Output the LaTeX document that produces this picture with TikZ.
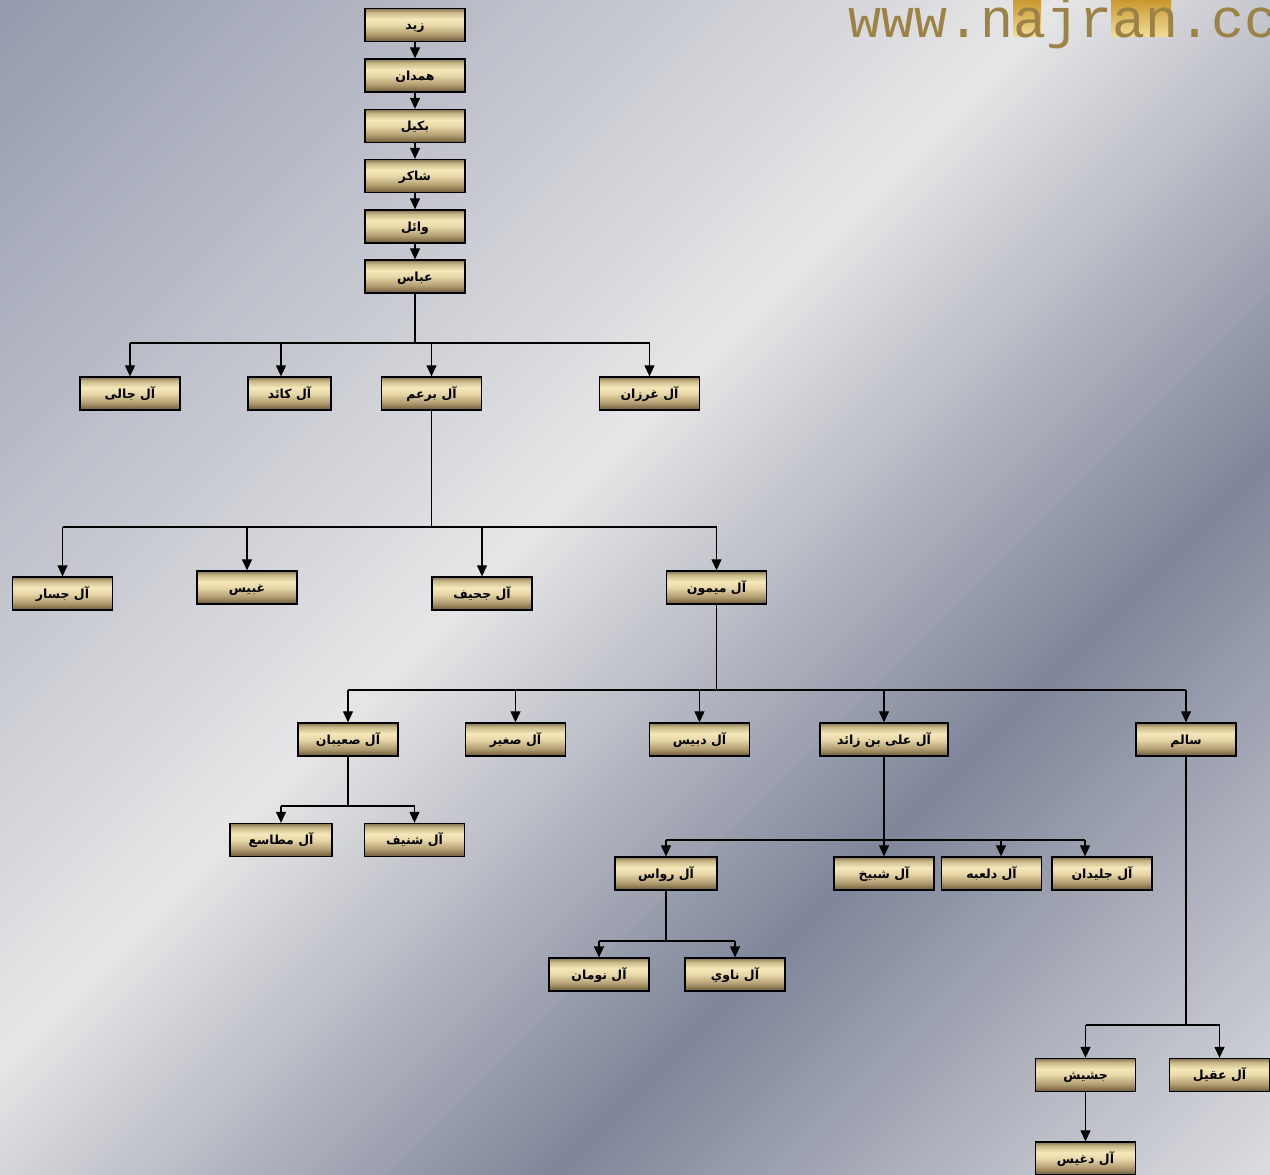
\documentclass[tikz,border=0pt]{standalone}
\usepackage{fontspec}
\usetikzlibrary{arrows.meta}
\TeXXeTstate=1
\newfontfamily\arabicfont[Script=Arabic]{DejaVu Sans}
\newfontfamily\wmfont{Liberation Mono}
\definecolor{bgA}{HTML}{959BAE}
\definecolor{bgB}{HTML}{E6E6E7}
\definecolor{bgC}{HTML}{80869A}
\definecolor{bgD}{HTML}{DEDFE2}
\definecolor{bxD}{HTML}{6A5A38}
\definecolor{bxM}{HTML}{B09C70}
\definecolor{bxL}{HTML}{E8D8A8}
\definecolor{bxH}{HTML}{F6E8BA}
\definecolor{bxU}{HTML}{C8B888}
\definecolor{bxT}{HTML}{857550}
\definecolor{wmtext}{HTML}{9C8244}
\definecolor{goldA}{HTML}{C8982E}
\definecolor{goldB}{HTML}{F0DC98}
\pgfdeclareverticalshading{boxshade}{100bp}{color(0bp)=(bxD); color(25bp)=(bxD); color(36bp)=(bxM); color(50bp)=(bxL); color(59bp)=(bxH); color(69bp)=(bxU); color(75bp)=(bxT); color(100bp)=(bxT)}
\begin{document}
\begin{tikzpicture}[x=1pt,y=-1pt,
  box/.style={draw=black, line width=1.3pt, shade, shading=boxshade, minimum width=100pt, minimum height=33pt, inner sep=0pt, text height=10pt, text depth=1pt, font=\arabicfont\bfseries\fontsize{12.5}{14}\selectfont},
  ln/.style={line width=1.2pt, draw=black},
  arr/.style={ln, -{Triangle[length=11pt,width=10pt]}}]
\useasboundingbox (0,0) rectangle (1270,1175);
% background
\begin{scope}
\clip (0,0) rectangle (1270,1175);
\foreach \i in {0,...,244}{
  \pgfmathtruncatemacro\t{\i*10}
  \ifnum\t<1050 \pgfmathtruncatemacro\p{\t/10.5}\colorlet{stripe}{bgB!\p!bgA}%
  \else\ifnum\t<1720 \pgfmathtruncatemacro\p{(\t-1050)/6.7}\colorlet{stripe}{bgC!\p!bgB}%
  \else \pgfmathtruncatemacro\p{(\t-1720)/7.3}\colorlet{stripe}{bgD!\p!bgC}\fi\fi
  \fill[stripe] (\t,0) -- (\t+11,0) -- (\t+11-1300,1300) -- (\t-1300,1300) -- cycle;
}
\end{scope}
% watermark
\shade[top color=goldA, bottom color=goldB] (1013,0) rectangle (1041,36);
\shade[top color=goldA, bottom color=goldB] (1111,0) rectangle (1171,36);
\node[anchor=base west, inner sep=0pt, text=wmtext, font=\wmfont\fontsize{55}{55}\selectfont] (wm) at (848,37) {www.najran.cc};
% chain
\node[box] (zaid) at (415,25) {\beginR زيد\endR};
\node[box] (hamdan) at (415,75.5) {\beginR همدان\endR};
\node[box] (bakil) at (415,126) {\beginR بكيل\endR};
\node[box] (shakir) at (415,176) {\beginR شاكر\endR};
\node[box] (wail) at (415,226.5) {\beginR وائل\endR};
\node[box] (abbas) at (415,276.5) {\beginR عباس\endR};
\draw[arr] (zaid) -- (hamdan);
\draw[arr] (hamdan) -- (bakil);
\draw[arr] (bakil) -- (shakir);
\draw[arr] (shakir) -- (wail);
\draw[arr] (wail) -- (abbas);
% row 2
\node[box] (jali) at (130,393.5) {\beginR آل جالى\endR};
\node[box, minimum width=83pt] (kaid) at (289.5,393.5) {\beginR آل كائد\endR};
\node[box] (barum) at (431.5,393.5) {\beginR آل برعم\endR};
\node[box] (ghurzan) at (649.5,393.5) {\beginR آل غرزان\endR};
\coordinate (b1) at (415,343);
\coordinate (kaidA) at ([xshift=-8.5pt]kaid.north);
\draw[ln] (abbas) -- (b1);
\draw[ln] (b1 -| jali) -- (b1 -| ghurzan);
\draw[arr] (b1 -| jali) -- (jali);
\draw[arr] (b1 -| kaidA) -- (kaidA);
\draw[arr] (b1 -| barum) -- (barum);
\draw[arr] (b1 -| ghurzan) -- (ghurzan);
% row 3
\node[box] (jasar) at (62.5,593.5) {\beginR آل جسار\endR};
\node[box] (ghubais) at (247,587.5) {\beginR غبيس\endR};
\node[box] (jahif) at (482,593.5) {\beginR آل جحيف\endR};
\node[box] (maimun) at (716.5,587.5) {\beginR آل ميمون\endR};
\coordinate (b2) at (431.5,527);
\draw[ln] (barum) -- (b2);
\draw[ln] (b2 -| jasar) -- (b2 -| maimun);
\draw[arr] (b2 -| jasar) -- (jasar);
\draw[arr] (b2 -| ghubais) -- (ghubais);
\draw[arr] (b2 -| jahif) -- (jahif);
\draw[arr] (b2 -| maimun) -- (maimun);
% row 4
\node[box] (suaiban) at (348,739.5) {\beginR آل صعيبان\endR};
\node[box] (saghir) at (515.5,739.5) {\beginR آل صغير\endR};
\node[box] (dubais) at (699.5,739.5) {\beginR آل دبيس\endR};
\node[box, minimum width=128pt] (ali) at (884,739.5) {\beginR آل على بن زائد\endR};
\node[box] (salim) at (1186,739.5) {\beginR سالم\endR};
\coordinate (b3) at (716.5,690);
\draw[ln] (maimun) -- (b3);
\draw[ln] (b3 -| suaiban) -- (b3 -| salim);
\draw[arr] (b3 -| suaiban) -- (suaiban);
\draw[arr] (b3 -| saghir) -- (saghir);
\draw[arr] (b3 -| dubais) -- (dubais);
\draw[arr] (b3 -| ali) -- (ali);
\draw[arr] (b3 -| salim) -- (salim);
% row 5
\node[box, minimum width=102pt] (mataseh) at (281,840) {\beginR آل مطاسع\endR};
\node[box] (shunaif) at (414.5,840) {\beginR آل شنيف\endR};
\coordinate (b4) at (348,806);
\draw[ln] (suaiban) -- (b4);
\draw[ln] (b4 -| mataseh) -- (b4 -| shunaif);
\draw[arr] (b4 -| mataseh) -- (mataseh);
\draw[arr] (b4 -| shunaif) -- (shunaif);
% row 6
\node[box, minimum width=102pt] (rawwas) at (666,873.5) {\beginR آل رواس\endR};
\node[box] (shabikh) at (884,873.5) {\beginR آل شبيخ\endR};
\node[box] (dalabeh) at (991.5,873.5) {\beginR آل دلعبه\endR};
\node[box] (jelidan) at (1102,873.5) {\beginR آل جليدان\endR};
\coordinate (b5) at (884,840);
\coordinate (dalA) at ([xshift=9.5pt]dalabeh.north);
\coordinate (jelA) at ([xshift=-17pt]jelidan.north);
\draw[arr] (ali) -- (shabikh);
\draw[ln] (b5 -| rawwas) -- (b5 -| jelA);
\draw[arr] (b5 -| rawwas) -- (rawwas);
\draw[arr] (b5 -| dalA) -- (dalA);
\draw[arr] (b5 -| jelA) -- (jelA);
% row 7
\node[box] (noman) at (599,974.5) {\beginR آل نومان\endR};
\node[box] (nawi) at (735,974.5) {\beginR آل ناوي\endR};
\coordinate (b6) at (666,941);
\draw[ln] (rawwas) -- (b6);
\draw[ln] (b6 -| noman) -- (b6 -| nawi);
\draw[arr] (b6 -| noman) -- (noman);
\draw[arr] (b6 -| nawi) -- (nawi);
% row 8
\node[box] (jashish) at (1085.5,1075) {\beginR جشيش\endR};
\node[box] (aqil) at (1219.5,1075) {\beginR آل عقيل\endR};
\coordinate (b7) at (1186,1025);
\draw[ln] (salim) -- (b7);
\draw[ln] (b7 -| jashish) -- (b7 -| aqil);
\draw[arr] (b7 -| jashish) -- (jashish);
\draw[arr] (b7 -| aqil) -- (aqil);
\node[box] (daghis) at (1085.5,1158.5) {\beginR آل دغيس\endR};
\draw[arr] (jashish) -- (daghis);
\end{tikzpicture}
\end{document}
